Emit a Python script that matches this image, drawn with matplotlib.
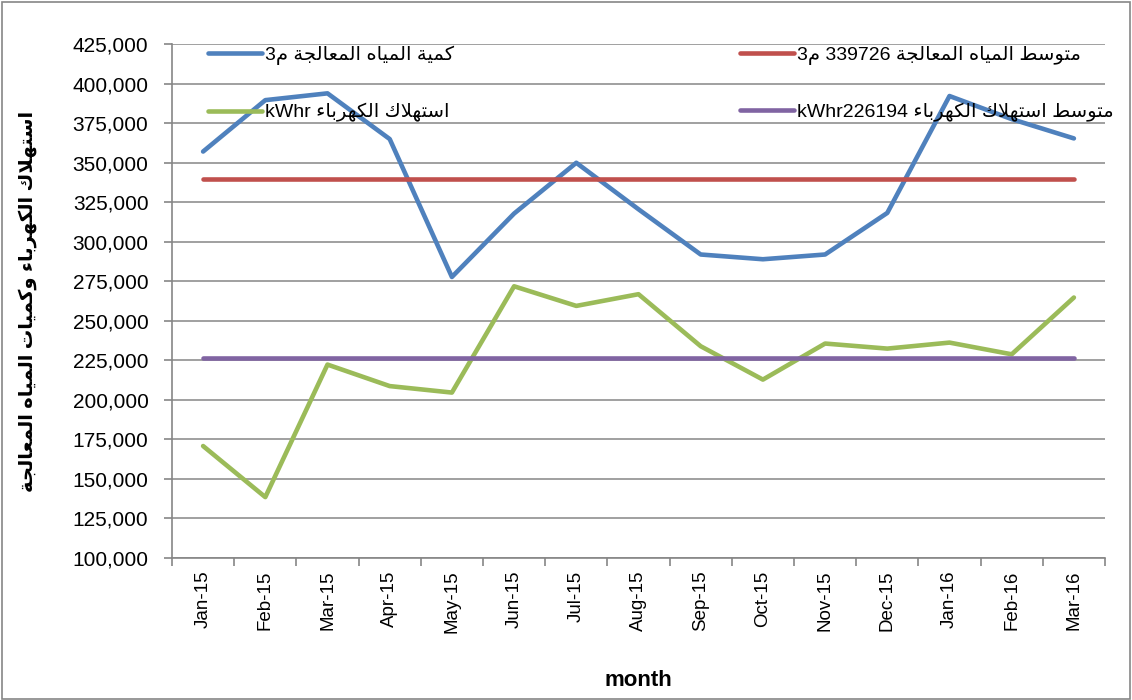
import matplotlib
matplotlib.use("Agg")
import matplotlib.pyplot as plt
from matplotlib.ticker import StrMethodFormatter, FixedLocator
from matplotlib.patches import Rectangle

# data
months = ['Jan-15', 'Feb-15', 'Mar-15', 'Apr-15', 'May-15', 'Jun-15', 'Jul-15', 'Aug-15',
          'Sep-15', 'Oct-15', 'Nov-15', 'Dec-15', 'Jan-16', 'Feb-16', 'Mar-16']
water = [357000, 389500, 393800, 364900, 277700, 317800, 349900, 320500,
         291900, 288900, 291900, 318200, 392100, 377500, 365300]
power = [170800, 138500, 222300, 208700, 204600, 271800, 259400, 266800,
         233900, 212800, 235600, 232400, 236200, 228800, 264700]
water_avg = 339726
power_avg = 226194
yticks = list(range(100000, 425001, 25000))

# simple arabic shaping (presentation forms) since matplotlib has no bidi/shaping
FORMS = {
    'ء': ('\uFE80', None, None, None),
    'ا': ('\uFE8D', '\uFE8E', None, None),
    'ب': ('\uFE8F', '\uFE90', '\uFE91', '\uFE92'),
    'ة': ('\uFE93', '\uFE94', None, None),
    'ت': ('\uFE95', '\uFE96', '\uFE97', '\uFE98'),
    'ج': ('\uFE9D', '\uFE9E', '\uFE9F', '\uFEA0'),
    'ر': ('\uFEAD', '\uFEAE', None, None),
    'س': ('\uFEB1', '\uFEB2', '\uFEB3', '\uFEB4'),
    'ط': ('\uFEC1', '\uFEC2', '\uFEC3', '\uFEC4'),
    'ع': ('\uFEC9', '\uFECA', '\uFECB', '\uFECC'),
    'ك': ('\uFED9', '\uFEDA', '\uFEDB', '\uFEDC'),
    'ل': ('\uFEDD', '\uFEDE', '\uFEDF', '\uFEE0'),
    'م': ('\uFEE1', '\uFEE2', '\uFEE3', '\uFEE4'),
    'ه': ('\uFEE9', '\uFEEA', '\uFEEB', '\uFEEC'),
    'و': ('\uFEED', '\uFEEE', None, None),
    'ي': ('\uFEF1', '\uFEF2', '\uFEF3', '\uFEF4'),
    'لا': ('\uFEFB', '\uFEFC', None, None),
}


def ar(s):
    toks = []
    i = 0
    while i < len(s):
        if s[i] == 'ل' and i + 1 < len(s) and s[i + 1] == 'ا':
            toks.append('لا')
            i += 2
        else:
            toks.append(s[i])
            i += 1
    out = []
    for k, t in enumerate(toks):
        if t not in FORMS:
            out.append(t)
            continue
        p = toks[k - 1] if k > 0 else None
        n = toks[k + 1] if k + 1 < len(toks) else None
        jp = p in FORMS and FORMS[p][2] is not None and FORMS[t][1] is not None
        jn = FORMS[t][2] is not None and n in FORMS and FORMS[n][1] is not None
        f = FORMS[t]
        if jp and jn:
            out.append(f[3])
        elif jp:
            out.append(f[1])
        elif jn:
            out.append(f[2])
        else:
            out.append(f[0])
    return ''.join(reversed(out))


lbl_water = '3' + ar('كمية المياه المعالجة م')
lbl_water_avg = '3' + ar('م') + ' ' + str(water_avg) + ' ' + ar('متوسط المياه المعالجة')
lbl_power = 'kWhr ' + ar('استهلاك الكهرباء')
lbl_power_avg = 'kWhr' + str(power_avg) + ' ' + ar('متوسط استهلاك الكهرباء')
ylab = ar('استهلاك الكهرباء وكميات المياه المعالجة')

plt.rcParams['font.family'] = ['Liberation Sans', 'DejaVu Sans']

fig = plt.figure(figsize=(11.32, 7), dpi=100)
ax = fig.add_axes([172 / 1132, 1 - 558 / 700, 933 / 1132, 514 / 700])

x = list(range(len(months)))
l1, = ax.plot(x, water, color='#4F81BD', lw=3.3, solid_capstyle='round', zorder=3)
l2, = ax.plot(x, power, color='#9BBB59', lw=3.3, solid_capstyle='round', zorder=3)
l3, = ax.plot(x, [water_avg] * len(x), color='#C0504D', lw=3.3, solid_capstyle='round', zorder=3)
l4, = ax.plot(x, [power_avg] * len(x), color='#8064A2', lw=3.3, solid_capstyle='round', zorder=3)

ax.set_xlim(-0.5, len(months) - 0.5)
ax.set_ylim(100000, 425000)
ax.set_yticks(yticks)
ax.yaxis.set_major_formatter(StrMethodFormatter('{x:,.0f}'))
ax.set_xticks(x)
ax.set_xticklabels(months, rotation=90)
ax.xaxis.set_minor_locator(FixedLocator([i - 0.5 for i in range(len(months) + 1)]))
ax.tick_params(axis='x', which='major', length=0, labelsize=13.5, pad=9)
ax.tick_params(axis='x', which='minor', length=6, color='#868686', width=1.2)
ax.tick_params(axis='y', length=6, color='#868686', width=1.2, labelsize=15, pad=11)

ax.grid(axis='y', color='#a0a0a0', lw=1.4)
ax.set_axisbelow(True)
for s in ['top', 'right']:
    ax.spines[s].set_visible(False)
for s in ['left', 'bottom']:
    ax.spines[s].set_color('#868686')
    ax.spines[s].set_linewidth(1.2)

ax.set_xlabel('month', fontsize=16, fontweight='bold')
ax.xaxis.set_label_coords(0.5, -0.218)
ax.set_ylabel(ylab, fontsize=14, fontweight='bold')
ax.yaxis.set_label_coords(-0.145, 0.5)

leg1 = fig.legend([l1, l2], [lbl_water, lbl_power], loc='upper left',
                  bbox_to_anchor=(198 / 1132, 1 - 36 / 700), frameon=False, fontsize=14,
                  handlelength=2.8, handletextpad=0.15, labelspacing=1.95, borderpad=0)
leg2 = fig.legend([l3, l4], [lbl_water_avg, lbl_power_avg], loc='upper left',
                  bbox_to_anchor=(730 / 1132, 1 - 36 / 700), frameon=False, fontsize=14,
                  handlelength=2.8, handletextpad=0.15, labelspacing=1.95, borderpad=0)

fig.add_artist(Rectangle((0.002, 0.002), 0.996, 0.995, transform=fig.transFigure,
                         fill=False, ec='#868686', lw=1.2))

fig.savefig('out.png', dpi=100)
